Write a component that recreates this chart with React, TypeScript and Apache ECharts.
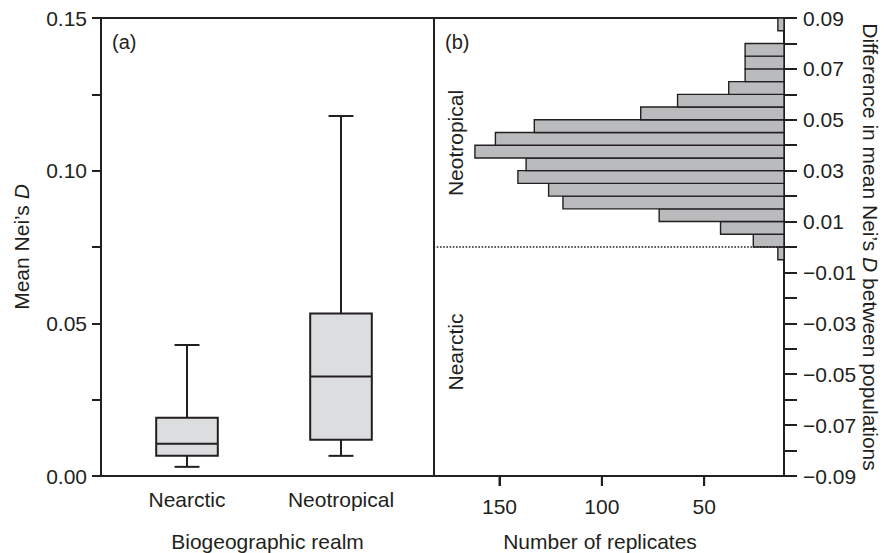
import { useEffect, useRef } from 'react';
import * as echarts from 'echarts';

// ---- data ----
const realms = ['Nearctic', 'Neotropical'];
const whiskerLow = [0.003, 0.0066];
const quartile1 = [0.0066, 0.0119];
const medians = [0.0106, 0.0326];
const quartile3 = [0.0191, 0.0532];
const whiskerHigh = [0.0429, 0.1179];

const binStarts = [-0.005, 0, 0.005, 0.01, 0.015, 0.02, 0.025, 0.03, 0.035, 0.04, 0.045, 0.05, 0.055, 0.06, 0.065, 0.07, 0.075, 0.085];
const replicateCounts = [14, 26, 42, 72, 119, 126, 141, 137, 162, 152, 133, 81, 63, 38, 30, 30, 30, 14];
const binWidth = 0.005;
const replicateTicks = [50, 100, 150];
const countRange = [11, 182];
const diffRange = [-0.09, 0.09];
const neiRange = [0, 0.15];

const INK = '#231f20';
const BAR_FILL = '#babbbd';
const BOX_FILL = '#dcdddf';
const FONT = "'Liberation Sans', Arial, Helvetica, sans-serif";
const FS = 21;

const textStyle = { color: INK, fontFamily: FONT, fontSize: FS };
const rich = { i: { fontStyle: 'italic', color: INK, fontFamily: FONT, fontSize: FS } };
const inkLine = { color: INK, width: 2 };
const gridBase = { top: 18, bottom: 77, outerBoundsMode: 'none', containLabel: false };

export default function App() {
  const ref = useRef<HTMLDivElement>(null);
  useEffect(() => {
    if (!ref.current) return;
    const chart = echarts.init(ref.current, undefined, { renderer: 'svg' });
    const option: any = {
      animation: false,
      backgroundColor: '#ffffff',
      textStyle: { fontFamily: FONT },
      grid: [
        { ...gridBase, left: 101, right: 452, show: true, borderColor: INK, borderWidth: 2, backgroundColor: 'transparent' },
        { ...gridBase, left: 110, right: 468 },
        { ...gridBase, left: 434, right: 102, show: true, borderColor: INK, borderWidth: 2, backgroundColor: 'transparent' },
        { ...gridBase, left: 434, right: 102 },
      ],
      xAxis: [
        {
          gridIndex: 0, type: 'category', data: realms, position: 'bottom',
          axisLine: { show: false, onZero: false }, axisTick: { show: false }, axisLabel: { show: false }, splitLine: { show: false },
          name: 'Biogeographic realm', nameLocation: 'middle', nameGap: 55, nameTextStyle: { ...textStyle },
        },
        {
          gridIndex: 1, type: 'category', data: realms, position: 'bottom',
          axisLine: { show: false, onZero: false }, axisTick: { show: false }, splitLine: { show: false },
          axisLabel: { ...textStyle, margin: 13 },
        },
        {
          gridIndex: 2, type: 'value', inverse: true, min: countRange[0], max: countRange[1], position: 'bottom',
          axisLine: { show: false, onZero: false }, splitLine: { show: false },
          axisTick: { show: true, customValues: replicateTicks, length: 10, lineStyle: inkLine },
          axisLabel: { ...textStyle, customValues: replicateTicks, margin: 20 },
          name: 'Number of replicates', nameLocation: 'middle', nameGap: 55,
          nameTextStyle: { ...textStyle, padding: [0, 18, 0, 0] },
        },
        {
          // auxiliary axis carrying the tick marks of the replicate axis
          gridIndex: 3, type: 'value', inverse: true, min: countRange[0], max: countRange[1], position: 'bottom',
          axisLine: { show: false },
          axisTick: { show: true, customValues: replicateTicks, length: 10, lineStyle: inkLine },
          axisLabel: { show: false }, splitLine: { show: false },
        },
      ],
      yAxis: [
        {
          gridIndex: 0, type: 'value', min: neiRange[0], max: neiRange[1], interval: 0.025,
          axisLine: { show: false, onZero: false }, splitLine: { show: false },
          axisTick: { show: true, length: 9, lineStyle: inkLine },
          axisLabel: {
            ...textStyle, margin: 14,
            formatter: (v: number) => (Math.round(v * 1000) % 50 === 0 ? v.toFixed(2) : ''),
          },
          name: 'Mean Nei\u2019s {i|D}', nameLocation: 'middle', nameGap: 69, nameRotate: 90,
          nameTextStyle: { ...textStyle, rich },
        },
        { gridIndex: 1, type: 'value', min: neiRange[0], max: neiRange[1], show: false },
        {
          gridIndex: 2, type: 'value', position: 'right', min: diffRange[0], max: diffRange[1], interval: 0.01,
          axisLine: { show: false, onZero: false }, splitLine: { show: false },
          axisTick: { show: true, length: 13, lineStyle: inkLine },
          axisLabel: {
            ...textStyle, margin: 19,
            formatter: (v: number) => {
              const h = Math.round(v * 100);
              if (h % 2 === 0) return '';
              return (h / 100).toFixed(2).replace('-', '\u2212');
            },
          },
          name: 'Difference in mean Nei\u2019s {i|D} between populations', nameLocation: 'middle', nameGap: 75, nameRotate: -90,
          nameTextStyle: { ...textStyle, rich },
        },
        {
          gridIndex: 3, type: 'value', min: -0.0001, max: 1,
          axisLine: { show: false }, axisTick: { show: false }, axisLabel: { show: false }, splitLine: { show: false },
        },
      ],
      series: [
        {
          type: 'custom',
          xAxisIndex: 1, yAxisIndex: 1,
          encode: { x: 0, y: [1, 2, 3, 4, 5] },
          data: realms.map((_, i) => [i, whiskerLow[i], quartile1[i], medians[i], quartile3[i], whiskerHigh[i]]),
          renderItem: (params: any, api: any) => {
            const i = api.value(0);
            const band = api.size([1, 0])[0];
            const half = band * 0.2;
            const capHalf = band * 0.081;
            const x = api.coord([i, api.value(1)])[0];
            const yMin = api.coord([i, api.value(1)])[1];
            const yQ1 = api.coord([i, api.value(2)])[1];
            const yMed = api.coord([i, api.value(3)])[1];
            const yQ3 = api.coord([i, api.value(4)])[1];
            const yMax = api.coord([i, api.value(5)])[1];
            const ls = { stroke: INK, lineWidth: 2, fill: 'none' };
            return {
              type: 'group',
              children: [
                { type: 'line', shape: { x1: x, y1: yMin, x2: x, y2: yQ1 }, style: ls },
                { type: 'line', shape: { x1: x, y1: yQ3, x2: x, y2: yMax }, style: ls },
                { type: 'line', shape: { x1: x - capHalf, y1: yMin, x2: x + capHalf, y2: yMin }, style: ls },
                { type: 'line', shape: { x1: x - capHalf, y1: yMax, x2: x + capHalf, y2: yMax }, style: ls },
                { type: 'rect', shape: { x: x - half, y: yQ3, width: half * 2, height: yQ1 - yQ3 }, style: { fill: BOX_FILL, stroke: INK, lineWidth: 2 } },
                { type: 'line', shape: { x1: x - half, y1: yMed, x2: x + half, y2: yMed }, style: ls },
              ],
            };
          },
        },
        {
          type: 'custom',
          xAxisIndex: 2, yAxisIndex: 2,
          encode: { x: 1, y: 0 },
          data: binStarts.map((b, i) => [b, replicateCounts[i]]),
          renderItem: (params: any, api: any) => {
            const lo = api.value(0);
            const n = api.value(1);
            const a = api.coord([n, lo + binWidth]);
            const b = api.coord([countRange[0], lo]);
            return {
              type: 'rect',
              shape: { x: a[0], y: a[1], width: b[0] - a[0], height: b[1] - a[1] },
              style: { fill: BAR_FILL, stroke: INK, lineWidth: 1.4 },
            };
          },
          markLine: {
            silent: true,
            symbol: ['none', 'none'],
            label: { show: false },
            lineStyle: { type: 'dotted', color: INK, width: 1.6 },
            data: [{ yAxis: 0 }],
          },
        },
      ],
    };
    chart.setOption(option);

    const labels: any[] = [
      { type: 'text', x: 112, y: 42, style: { text: '(a)', fill: INK, font: `20px ${FONT}`, textVerticalAlign: 'middle' } },
      { type: 'text', x: 445, y: 42, style: { text: '(b)', fill: INK, font: `20px ${FONT}`, textVerticalAlign: 'middle' } },
      { type: 'text', x: 455, y: 143, rotation: Math.PI / 2, style: { text: 'Neotropical', fill: INK, font: `${FS}px ${FONT}`, textAlign: 'center', textVerticalAlign: 'middle' } },
      { type: 'text', x: 455, y: 352, rotation: Math.PI / 2, style: { text: 'Nearctic', fill: INK, font: `${FS}px ${FONT}`, textAlign: 'center', textVerticalAlign: 'middle' } },
    ];
    // tick marks of the "Number of replicates" axis, positioned through the axis scale
    const yBase = Number(chart.convertToPixel({ yAxisIndex: 2 } as any, diffRange[0]));
    replicateTicks.forEach((t) => {
      const x = Number(chart.convertToPixel({ xAxisIndex: 2 } as any, t));
      if (isFinite(x) && isFinite(yBase)) {
        labels.push({
          type: 'line', z: 100, silent: true,
          shape: { x1: x, y1: yBase - 1, x2: x, y2: yBase + 10 },
          style: { stroke: INK, lineWidth: 2 },
        });
      }
    });
    chart.setOption({ graphic: { elements: labels } });
    return () => chart.dispose();
  }, []);
  return <div ref={ref} style={{ position: 'fixed', left: 0, top: 0, width: 886, height: 553 }} />;
}
